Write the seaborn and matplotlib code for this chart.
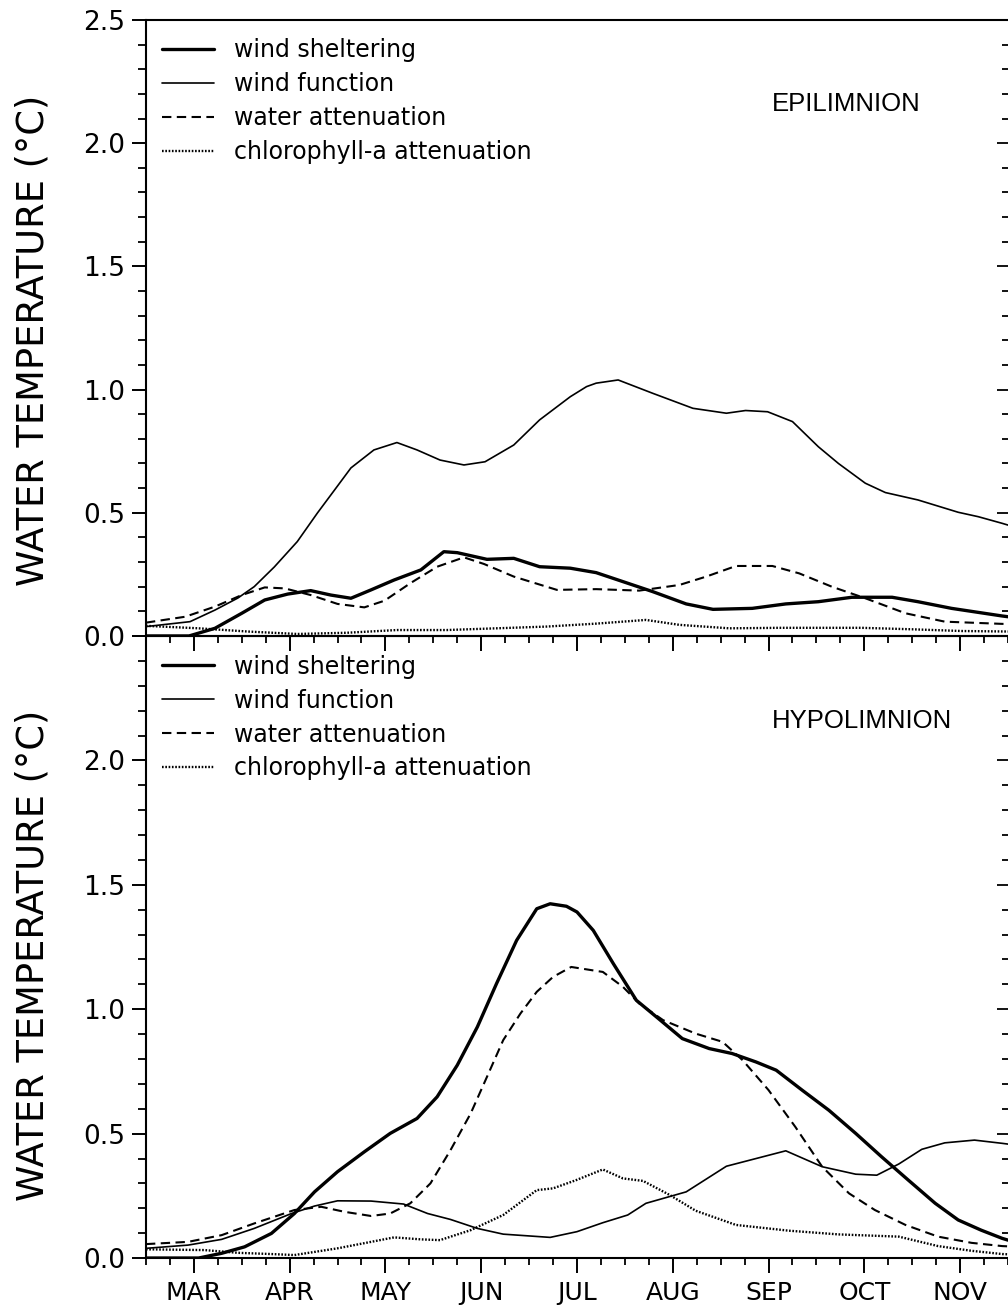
import matplotlib
matplotlib.use("Agg")
import matplotlib.pyplot as plt
from matplotlib.ticker import MultipleLocator, FixedLocator
import seaborn as sns

# ---- axis categories -------------------------------------------------------
months = ["MAR", "APR", "MAY", "JUN", "JUL", "AUG", "SEP", "OCT", "NOV"]
month_pos = [3, 4, 5, 6, 7, 8, 9, 10, 11]
y_ticks = [0.0, 0.5, 1.0, 1.5, 2.0, 2.5]
series_names = ["wind sheltering", "wind function",
                "water attenuation", "chlorophyll-a attenuation"]

# ---- epilimnion (x in month units, y in deg C) ----------------------------
epi_shelter_x = [2.50, 2.95, 3.22, 3.50, 3.74, 3.98, 4.22, 4.43, 4.64, 4.85,
                 5.09, 5.37, 5.61, 5.75, 6.06, 6.34, 6.61, 6.93, 7.20, 7.43,
                 7.79, 8.14, 8.42, 8.83, 9.18, 9.52, 9.87, 10.29, 10.56,
                 10.91, 11.44, 11.50]
epi_shelter_y = [0.0, 0.0, 0.031, 0.092, 0.146, 0.170, 0.184, 0.166, 0.153,
                 0.187, 0.227, 0.268, 0.342, 0.338, 0.311, 0.315, 0.281,
                 0.275, 0.257, 0.227, 0.180, 0.130, 0.108, 0.112, 0.130,
                 0.139, 0.157, 0.157, 0.139, 0.112, 0.081, 0.078]

epi_windfn_x = [2.50, 2.96, 3.22, 3.46, 3.63, 3.84, 4.08, 4.29, 4.47, 4.64,
                4.88, 5.12, 5.33, 5.57, 5.82, 6.04, 6.34, 6.61, 6.93, 7.10,
                7.20, 7.43, 7.79, 8.21, 8.56, 8.76, 8.99, 9.25, 9.52, 9.73,
                10.01, 10.22, 10.56, 10.98, 11.19, 11.44, 11.50]
epi_windfn_y = [0.038, 0.058, 0.105, 0.154, 0.200, 0.280, 0.383, 0.499, 0.593,
                0.682, 0.755, 0.785, 0.755, 0.714, 0.694, 0.707, 0.775, 0.877,
                0.971, 1.012, 1.026, 1.039, 0.985, 0.924, 0.904, 0.915, 0.910,
                0.870, 0.768, 0.700, 0.620, 0.582, 0.552, 0.502, 0.484, 0.457,
                0.450]

epi_water_x = [2.50, 2.91, 3.22, 3.50, 3.74, 3.95, 4.22, 4.50, 4.78, 4.99,
               5.26, 5.54, 5.82, 6.03, 6.34, 6.79, 7.20, 7.65, 8.07, 8.35,
               8.66, 9.04, 9.32, 9.66, 10.01, 10.43, 10.84, 11.44, 11.50]
epi_water_y = [0.054, 0.078, 0.119, 0.166, 0.197, 0.193, 0.166, 0.130, 0.116,
               0.143, 0.214, 0.281, 0.319, 0.292, 0.241, 0.187, 0.190, 0.184,
               0.207, 0.241, 0.284, 0.284, 0.254, 0.200, 0.153, 0.092, 0.058,
               0.049, 0.049]

epi_chl_x = [2.50, 3.05, 3.56, 4.08, 4.60, 5.12, 5.64, 6.16, 6.68, 7.20,
             7.72, 8.07, 8.59, 9.11, 9.97, 10.50, 11.02, 11.50]
epi_chl_y = [0.041, 0.031, 0.018, 0.008, 0.013, 0.024, 0.024, 0.031, 0.038,
             0.050, 0.065, 0.045, 0.031, 0.033, 0.033, 0.027, 0.020, 0.018]

# ---- hypolimnion -----------------------------------------------------------
hypo_shelter_x = [2.50, 3.05, 3.29, 3.53, 3.81, 4.05, 4.26, 4.50, 4.78, 5.05,
                  5.33, 5.54, 5.75, 5.96, 6.16, 6.37, 6.58, 6.72, 6.89, 7.00,
                  7.17, 7.38, 7.62, 7.83, 8.10, 8.38, 8.62, 8.87, 9.08, 9.35,
                  9.63, 9.91, 10.18, 10.46, 10.74, 10.98, 11.22, 11.44, 11.50]
hypo_shelter_y = [0.0, 0.0, 0.019, 0.045, 0.099, 0.179, 0.266, 0.347, 0.427,
                  0.501, 0.561, 0.648, 0.775, 0.929, 1.103, 1.277, 1.404,
                  1.424, 1.414, 1.391, 1.317, 1.183, 1.036, 0.969, 0.882,
                  0.842, 0.822, 0.788, 0.755, 0.675, 0.594, 0.501, 0.407,
                  0.313, 0.220, 0.153, 0.112, 0.079, 0.072]

hypo_windfn_x = [2.50, 2.94, 3.29, 3.63, 4.02, 4.26, 4.50, 4.85, 5.19, 5.44,
                 5.68, 5.96, 6.23, 6.72, 7.00, 7.27, 7.53, 7.72, 8.14, 8.56,
                 8.87, 9.18, 9.56, 9.91, 10.13, 10.36, 10.60, 10.84, 11.15,
                 11.44, 11.50]
hypo_windfn_y = [0.039, 0.052, 0.075, 0.119, 0.179, 0.209, 0.230, 0.229, 0.217,
                 0.179, 0.155, 0.119, 0.096, 0.083, 0.106, 0.142, 0.173, 0.220,
                 0.266, 0.369, 0.400, 0.431, 0.367, 0.337, 0.333, 0.378, 0.437,
                 0.463, 0.474, 0.461, 0.458]

hypo_water_x = [2.50, 2.94, 3.29, 3.63, 4.05, 4.33, 4.57, 4.85, 5.05, 5.26,
                5.47, 5.68, 5.89, 6.06, 6.23, 6.41, 6.58, 6.75, 6.94, 7.27,
                7.48, 7.65, 7.90, 8.24, 8.52, 8.73, 9.00, 9.28, 9.56, 9.84,
                10.11, 10.43, 10.77, 11.12, 11.44, 11.50]
hypo_water_y = [0.056, 0.065, 0.092, 0.139, 0.193, 0.206, 0.186, 0.169, 0.179,
                0.220, 0.300, 0.434, 0.581, 0.728, 0.876, 0.983, 1.070, 1.130,
                1.170, 1.150, 1.090, 1.023, 0.956, 0.902, 0.869, 0.795, 0.675,
                0.527, 0.367, 0.260, 0.193, 0.133, 0.086, 0.061, 0.048, 0.047]

hypo_chl_x = [2.50, 3.11, 3.46, 3.81, 4.05, 4.50, 4.85, 5.09, 5.37, 5.57,
              5.89, 6.23, 6.58, 6.75, 6.99, 7.27, 7.48, 7.69, 7.97, 8.24,
              8.66, 9.21, 9.73, 10.36, 10.77, 11.12, 11.44, 11.50]
hypo_chl_y = [0.035, 0.032, 0.021, 0.016, 0.012, 0.039, 0.065, 0.083, 0.075,
              0.072, 0.112, 0.173, 0.273, 0.280, 0.313, 0.356, 0.320, 0.310,
              0.253, 0.190, 0.133, 0.110, 0.095, 0.086, 0.048, 0.029, 0.016,
              0.015]

# ---- line appearance per series -------------------------------------------
line_styles = {
    "wind sheltering": dict(linewidth=2.4, linestyle="-"),
    "wind function": dict(linewidth=1.2, linestyle="-"),
    "water attenuation": dict(linewidth=1.5, linestyle=(0, (4.5, 2.6))),
    "chlorophyll-a attenuation": dict(linewidth=1.7, linestyle=(0, (0.7, 0.7))),
}

sns.set_style("ticks")
plt.rcParams["font.family"] = ["DejaVu Sans"]
plt.rcParams["axes.linewidth"] = 1.5
for key in ("text.color", "axes.labelcolor", "xtick.color", "ytick.color",
            "axes.edgecolor"):
    plt.rcParams[key] = "black"

fig = plt.figure(figsize=(10.08, 13.08), dpi=100)
ax_top = fig.add_axes([0.1448, 0.5138, 0.8552, 0.4709])
ax_bot = fig.add_axes([0.1448, 0.0382, 0.8552, 0.4755])
ax_bot.set_facecolor("none")
ax_top.set_facecolor("none")

panels = [
    (ax_top, "EPILIMNION",
     [(epi_shelter_x, epi_shelter_y), (epi_windfn_x, epi_windfn_y),
      (epi_water_x, epi_water_y), (epi_chl_x, epi_chl_y)], 0.480),
    (ax_bot, "HYPOLIMNION",
     [(hypo_shelter_x, hypo_shelter_y), (hypo_windfn_x, hypo_windfn_y),
      (hypo_water_x, hypo_water_y), (hypo_chl_x, hypo_chl_y)], 0.487),
]

for ax, title, series, label_y in panels:
    for name, (xs, ys) in zip(series_names, series):
        sns.lineplot(x=xs, y=ys, ax=ax, color="black", label=name,
                     estimator=None, sort=False, **line_styles[name])

    ax.set_xlim(2.5, 11.5)
    ax.set_ylim(0.0, 2.5)
    ax.spines["right"].set_visible(False)

    # left y axis: outward ticks
    ax.yaxis.set_major_locator(FixedLocator(y_ticks))
    ax.yaxis.set_minor_locator(MultipleLocator(0.1))
    ax.tick_params(axis="y", which="major", direction="out", length=10,
                   width=1.4, labelsize=19, pad=5, left=True, right=False)
    ax.tick_params(axis="y", which="minor", direction="out", length=5.5,
                   width=1.3, left=True, right=False)

    # x axis: months with weekly minor ticks
    ax.xaxis.set_major_locator(FixedLocator(month_pos))
    ax.xaxis.set_minor_locator(MultipleLocator(0.25))
    ax.tick_params(axis="x", which="major", direction="out", length=10.5,
                   width=1.4, labelsize=18, pad=6, top=False)
    ax.tick_params(axis="x", which="minor", direction="out", length=5,
                   width=1.3, top=False)

    # right y axis: inward ticks only
    twin = ax.twinx()
    twin.set_ylim(0.0, 2.5)
    twin.yaxis.set_major_locator(FixedLocator(y_ticks))
    twin.yaxis.set_minor_locator(MultipleLocator(0.1))
    twin.tick_params(axis="y", which="major", direction="in", length=8,
                     width=1.3, labelright=False)
    twin.tick_params(axis="y", which="minor", direction="in", length=4,
                     width=1.3)
    for sp in twin.spines.values():
        sp.set_visible(False)

    ax.set_ylabel("WATER TEMPERATURE (\u00b0C)", fontsize=26.5)
    ax.yaxis.set_label_coords(-0.110, label_y)
    ax.set_xlabel("")

    ax.text(9.03, 2.16, title, fontsize=18.5, family="Liberation Sans",
            ha="left", va="center")

    ax.legend(loc="upper left", bbox_to_anchor=(0.0185, 0.970),
              frameon=False, fontsize=17, handlelength=2.2,
              handletextpad=0.85, labelspacing=0.42, borderpad=0,
              borderaxespad=0)

# upper panel: no month labels; lower panel: hide the shared 2.5 label
ax_top.tick_params(axis="x", which="both", labelbottom=False)
ax_top.set_xticklabels([])
ax_top.set_yticks(y_ticks)
ax_top.set_yticklabels([f"{v:.1f}" for v in y_ticks])
ax_bot.set_yticks(y_ticks)
ax_bot.set_yticklabels([f"{v:.1f}" for v in y_ticks[:-1]] + [""])
ax_bot.set_xticks(month_pos)
ax_bot.set_xticklabels(months)

fig.savefig("out.png", dpi=100)
